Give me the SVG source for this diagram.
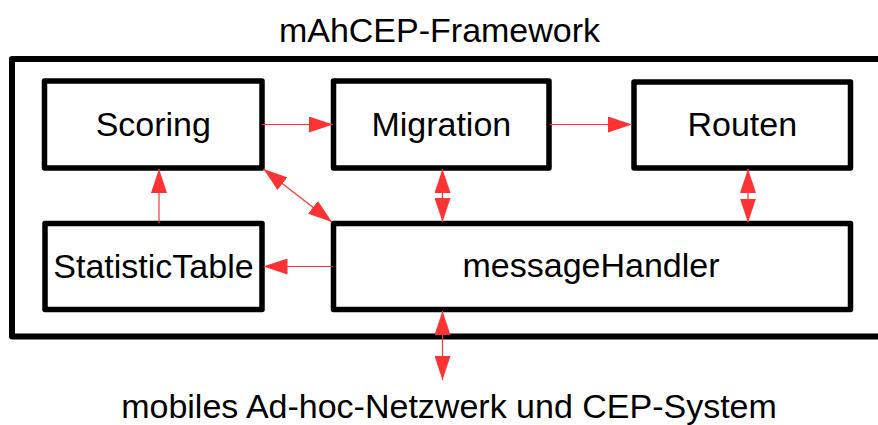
<svg xmlns="http://www.w3.org/2000/svg" width="878" height="425" viewBox="0 0 878 425">
  <style>
    .box { fill: #ffffff; stroke: #000000; stroke-width: 5.5; stroke-linejoin: round; }
    .frame { fill: none; stroke: #000000; stroke-width: 6; stroke-linejoin: round; }
    .label { font-family: "Liberation Sans", Arial, sans-serif; font-size: 34px; fill: #000000; text-anchor: middle; }
    .conn { stroke: #ff3333; stroke-width: 1.2; fill: none; }
  </style>
  <defs>
    <marker id="arrow" viewBox="0 0 24 16" refX="24" refY="8" markerWidth="24" markerHeight="16" markerUnits="userSpaceOnUse" orient="auto-start-reverse">
      <path d="M0,0 L24,8 L0,16 Z" fill="#ff3333"/>
    </marker>
  </defs>

  <rect id="background" x="0" y="0" width="878" height="425" fill="#ffffff"/>

  <!-- framework boundary (runs off the right edge) -->
  <g id="framework">
    <rect class="frame" x="12" y="59" width="900" height="277.5"/>
    <text class="label" x="439.5" y="42">mAhCEP-Framework</text>
  </g>

  <g id="scoring">
    <rect class="box" x="44.5" y="81" width="217.5" height="87"/>
    <text class="label" x="153.3" y="136">Scoring</text>
  </g>

  <g id="migration">
    <rect class="box" x="333.5" y="81" width="215.5" height="87"/>
    <text class="label" x="441.3" y="136">Migration</text>
  </g>

  <g id="routen">
    <rect class="box" x="634" y="82" width="216.5" height="86"/>
    <text class="label" x="742.3" y="136">Routen</text>
  </g>

  <g id="statisticTable">
    <rect class="box" x="45" y="223.5" width="217" height="86"/>
    <text class="label" x="153.5" y="277.5">StatisticTable</text>
  </g>

  <g id="messageHandler">
    <rect class="box" x="333.5" y="223.5" width="517" height="86"/>
    <text class="label" x="591" y="277">messageHandler</text>
  </g>

  <g id="network">
    <text class="label" x="449" y="417.5">mobiles Ad-hoc-Netzwerk und CEP-System</text>
  </g>

  <g id="connectors">
    <line class="conn" x1="262" y1="124.5" x2="333" y2="124.5" marker-end="url(#arrow)"/>
    <line class="conn" x1="550" y1="124.5" x2="632" y2="124.5" marker-end="url(#arrow)"/>
    <line class="conn" x1="159" y1="223" x2="159" y2="169" marker-end="url(#arrow)"/>
    <line class="conn" x1="333" y1="266.5" x2="263.5" y2="266.5" marker-end="url(#arrow)"/>
    <line class="conn" x1="263.5" y1="169" x2="332" y2="222" marker-start="url(#arrow)" marker-end="url(#arrow)"/>
    <line class="conn" x1="442.5" y1="169" x2="442.5" y2="222" marker-start="url(#arrow)" marker-end="url(#arrow)"/>
    <line class="conn" x1="748" y1="169" x2="748" y2="222.5" marker-start="url(#arrow)" marker-end="url(#arrow)"/>
    <line class="conn" x1="442.5" y1="311" x2="442.5" y2="380" marker-start="url(#arrow)" marker-end="url(#arrow)"/>
  </g>
</svg>
